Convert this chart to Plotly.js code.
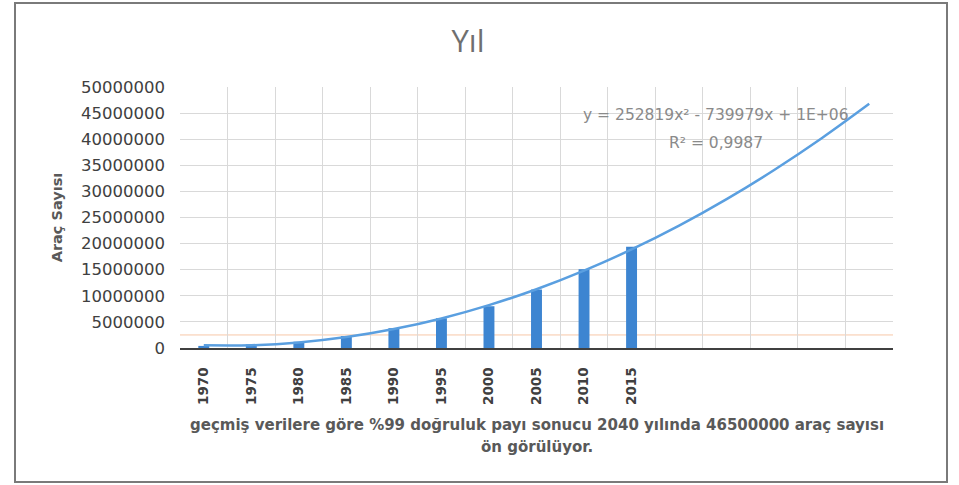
<!DOCTYPE html>
<html>
<head>
<meta charset="utf-8">
<script src="https://cdn.plot.ly/plotly-3.0.1.min.js"></script>
<style>
  html, body { margin: 0; padding: 0; background: #ffffff; }
  #frame { position: absolute; left: 14px; top: 2px; width: 930px; height: 477px; border: 2px solid #7a7a7a; background: #ffffff; }
  #chart { position: absolute; left: 0; top: 0; width: 959px; height: 485px; }
</style>
</head>
<body>
<div id="frame"></div>
<div id="chart"></div>
<script>
// Data
const positions = [1, 2, 3, 4, 5, 6, 7, 8, 9, 10, 11, 12, 13, 14, 15];
const yearLabels = ["1970", "1975", "1980", "1985", "1990", "1995", "2000", "2005", "2010", "2015", "", "", "", "", ""];
const barPositions = [1, 2, 3, 4, 5, 6, 7, 8, 9, 10];
const vehicleCounts = [400000, 700000, 1200000, 2300000, 3800000, 5700000, 8000000, 11200000, 15100000, 19400000];
// Polynomial trendline (forecast to 2040)
const trendValues = [510000, 530000, 1060000, 2090000, 3620000, 5660000, 8210000, 11260000, 14820000, 18880000, 23450000, 28530000, 34110000, 40190000, 46780000];
const referenceLine = [2500000];
const chartTitle = "Yıl";
const yTitle = "Araç Sayısı";
const xTitleLines = ["geçmiş verilere göre %99 doğruluk payı sonucu 2040 yılında 46500000 araç sayısı", "ön görülüyor."];
const equationText = ["y = 252819x² - 739979x + 1E+06", "R² = 0,9987"];

const traces = [
  {
    type: "bar",
    x: barPositions,
    y: vehicleCounts,
    width: 0.23,
    marker: { color: "#3d85d1" },
    showlegend: false,
    hoverinfo: "y"
  },
  {
    type: "scatter",
    mode: "lines",
    x: positions,
    y: trendValues,
    line: { color: "#5a9fe0", width: 2.5, shape: "spline" },
    showlegend: false,
    hoverinfo: "y"
  }
];

const layout = {
  width: 959,
  height: 485,
  margin: { l: 180, r: 66, t: 87, b: 137 },
  paper_bgcolor: "rgba(0,0,0,0)",
  plot_bgcolor: "#ffffff",
  title: {
    text: chartTitle,
    font: { family: "Open Sans", size: 31, color: "#6f6f6f" },
    x: 0.488, xanchor: "center",
    y: 0.915, yanchor: "middle"
  },
  xaxis: {
    range: [0.5, 15.5],
    tickmode: "array",
    tickvals: positions,
    ticktext: yearLabels,
    tickangle: -90,
    tickfont: { family: "DejaVu Sans", size: 13.5, color: "#404040", weight: "bold" },
    ticks: "",
    ticklabelstandoff: 12,
    showgrid: false,
    minor: { tick0: 0.5, dtick: 1, showgrid: true, gridcolor: "#d9d9d9", gridwidth: 1, ticks: "" },
    showline: true,
    linecolor: "#404040",
    linewidth: 2,
    zeroline: false,
    fixedrange: true
  },
  yaxis: {
    range: [0, 50000000],
    tickmode: "linear",
    tick0: 0,
    dtick: 5000000,
    tickformat: "d",
    tickfont: { family: "DejaVu Sans", size: 16.5, color: "#404040" },
    ticks: "",
    ticklabelstandoff: 14,
    showgrid: true,
    gridcolor: "#d9d9d9",
    gridwidth: 1,
    zeroline: false,
    showline: false,
    title: {
      text: yTitle,
      font: { family: "DejaVu Sans", size: 14.5, color: "#595959", weight: "bold" },
      standoff: 14
    },
    fixedrange: true
  },
  shapes: referenceLine.map(v => ({
    type: "line", xref: "paper", yref: "y", x0: 0, x1: 1, y0: v, y1: v,
    line: { color: "rgba(244,177,131,0.7)", width: 1 }, layer: "below"
  })),
  annotations: [
    {
      xref: "paper", yref: "paper", x: 0.5, y: -0.295, xanchor: "center", yanchor: "middle",
      text: xTitleLines[0], showarrow: false,
      font: { family: "DejaVu Sans", size: 15, color: "#595959", weight: "bold" }
    },
    {
      xref: "paper", yref: "paper", x: 0.5, y: -0.38, xanchor: "center", yanchor: "middle",
      text: xTitleLines[1], showarrow: false,
      font: { family: "DejaVu Sans", size: 15, color: "#595959", weight: "bold" }
    },
    {
      xref: "paper", yref: "paper", x: 0.752, y: 0.894, xanchor: "center", yanchor: "middle",
      text: equationText[0], showarrow: false,
      font: { family: "DejaVu Sans", size: 15.5, color: "#8a8a8a" }
    },
    {
      xref: "paper", yref: "paper", x: 0.752, y: 0.786, xanchor: "center", yanchor: "middle",
      text: equationText[1], showarrow: false,
      font: { family: "DejaVu Sans", size: 15.5, color: "#8a8a8a" }
    }
  ]
};

Plotly.newPlot("chart", traces, layout, { displayModeBar: false, staticPlot: true });
</script>
</body>
</html>
